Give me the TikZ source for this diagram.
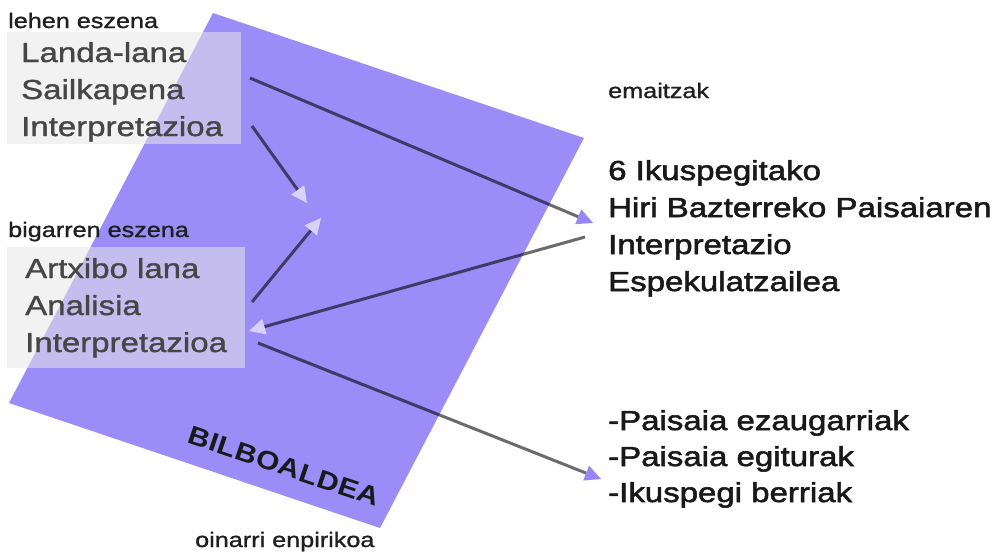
\documentclass[tikz,border=0pt]{standalone}
\usepackage{fontspec}
\setmainfont{Liberation Sans}
\newfontfamily\wf[FakeStretch=1.2,FakeBold=1.2]{Liberation Sans}
\newfontfamily\wfb[FakeStretch=1.2,FakeBold=2]{Liberation Sans}
\newfontfamily\wfbb[FakeStretch=1.15,LetterSpace=2]{Liberation Sans}
\usetikzlibrary{arrows.meta}
\definecolor{bilbo}{RGB}{155,140,248}
\definecolor{boxfill}{RGB}{231,231,231}
\definecolor{tipdark}{RGB}{150,134,250}
\definecolor{tiplight}{RGB}{216,209,250}
\definecolor{boxtext}{RGB}{70,70,70}
\begin{document}
\begin{tikzpicture}[x=1pt,y=-1pt,
  lbl/.style={anchor=base west, inner sep=0pt, font=\wf\fontsize{21}{25}\selectfont, text=black!88},
  boxtxt/.style={anchor=base west, inner sep=0pt, font=\wf\fontsize{27.5}{33}\selectfont, text=boxtext},
  restxt/.style={anchor=base west, inner sep=0pt, font=\wfb\fontsize{27.5}{33}\selectfont, text=black!90},
  scenebox/.style={fill=boxfill, fill opacity=0.55, draw=none},
  conn/.style={line width=3pt, draw=black, draw opacity=0.58},
  tipD/.style={conn, -{Triangle[length=16pt,width=16pt,color=tipdark,line width=0pt]}},
  tipL/.style={conn, -{Triangle[length=16pt,width=16pt,color=tiplight,line width=0pt]}}
]
\useasboundingbox (0,0) rectangle (1005,552);
% region
\fill[bilbo] (213,13) -- (584,138) -- (380,528) -- (9,403) -- cycle;
\node[rotate=-18.7, inner sep=0pt, font=\wfbb\bfseries\fontsize{26}{30}\selectfont, text=black!90] (bilbo) at (284,466) {BILBOALDEA};
% boxes
\fill[scenebox] (7,32) rectangle (241,144);
\fill[scenebox] (7,247) rectangle (245,368);
% labels
\node[lbl] (l1) at (8,28) {lehen eszena};
\node[lbl] (l2) at (8,237) {bigarren eszena};
\node[lbl] (l3) at (608,98) {emaitzak};
\node[lbl] (l4) at (195,547) {oinarri enpirikoa};
% box texts
\node[boxtxt] (b1) at (21,62) {Landa-lana};
\node[boxtxt] (b2) at (21,99) {Sailkapena};
\node[boxtxt] (b3) at (21,136) {Interpretazioa};
\node[boxtxt] (c1) at (25,278) {Artxibo lana};
\node[boxtxt] (c2) at (25,315) {Analisia};
\node[boxtxt] (c3) at (25,352) {Interpretazioa};
% results
\node[restxt] (r1) at (608,180) {6 Ikuspegitako};
\node[restxt] (r2) at (608,217) {Hiri Bazterreko Paisaiaren};
\node[restxt] (r3) at (608,254) {Interpretazio};
\node[restxt] (r4) at (608,291) {Espekulatzailea};
\node[restxt] (s1) at (608,430) {-Paisaia ezaugarriak};
\node[restxt] (s2) at (608,466) {-Paisaia egiturak};
\node[restxt] (s3) at (608,502) {-Ikuspegi berriak};
% connector ends
\coordinate (a1s) at (250,78);
\coordinate (a1e) at (593,223);
\coordinate (a2s) at (252,126);
\coordinate (a2e) at (307,203);
\coordinate (a3s) at (252,302);
\coordinate (a3e) at (321,218);
\coordinate (a4s) at (585,237);
\coordinate (a4e) at (249,331);
\coordinate (a5s) at (258,343);
\coordinate (a5e) at (601,479);
\draw[tipD] (a1s) -- (a1e);
\draw[tipL] (a2s) -- (a2e);
\draw[tipL] (a3s) -- (a3e);
\draw[tipL] (a4s) -- (a4e);
\draw[tipD] (a5s) -- (a5e);
\end{tikzpicture}
\end{document}
